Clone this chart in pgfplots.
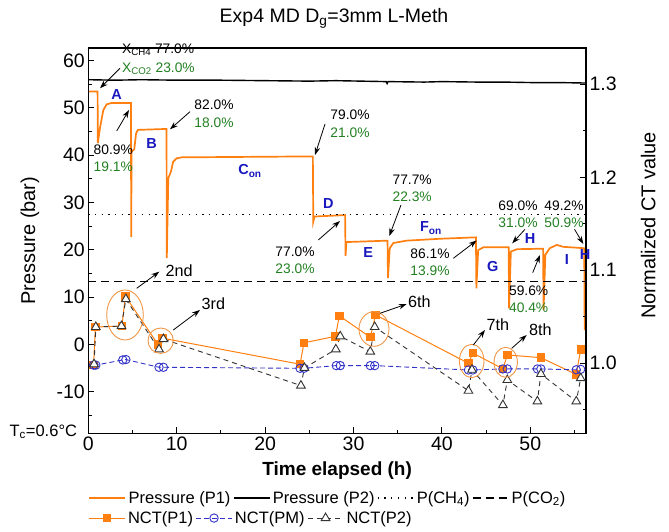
\documentclass[border=0pt]{standalone}
\usepackage{fontspec}
\setmainfont{Liberation Sans}
\usepackage{pgfplots}
\pgfplotsset{compat=1.18}
\usetikzlibrary{arrows.meta}

\definecolor{pOrange}{RGB}{255,128,16}
\definecolor{labBlue}{RGB}{24,24,190}
\definecolor{pctGreen}{RGB}{34,128,34}
\definecolor{pmBlue}{RGB}{50,50,200}
\definecolor{ellOrange}{RGB}{240,150,70}

\pgfplotsset{
  base/.style={
    scale only axis, width=497.7pt, height=385.3pt,
    at={(0pt,0pt)}, anchor=south west,
    xmin=0, xmax=56.3,
    tick align=inside,
    major tick length=6pt, minor tick length=3.5pt,
    tick style={black, line width=0.9pt},
    axis line style={line width=1.1pt},
    tick label style={font=\fontsize{19.5}{22}\selectfont},
    /pgf/number format/assume math mode=true,
    label style={font=\fontsize{20}{24}\selectfont},
    legend columns=-1,
    legend cell align=left,
    legend style={draw=none, fill=none, font=\fontsize{16.5}{19}\selectfont,
      anchor=west, inner xsep=0pt, inner ysep=0pt,
      nodes={inner xsep=2.5pt, inner ysep=1pt}},
    legend image code/.code={\draw[mark repeat=2,mark phase=2,##1] plot coordinates {(0pt,0pt) (18pt,0pt) (36pt,0pt)};},
  },
}

\begin{document}
\begin{tikzpicture}
\path[use as bounding box] (-88.3pt,-97.7pt) rectangle (580.7pt,433.3pt);

% pressure, left axis
\begin{axis}[base,
  ymin=-18.8, ymax=62.6,
  xtick={0,10,...,50}, minor xtick={5,15,...,55},
  ytick={-10,0,...,60}, minor ytick={-15,-5,...,55},
  xtick pos=left, ytick pos=left,
  xlabel={Time elapsed (h)},
  ylabel={Pressure (bar)},
  x label style={at={(axis description cs:0.5,-0.098)}, anchor=center, font=\fontsize{19}{22}\selectfont\bfseries},
  y label style={at={(axis description cs:-0.117,0.5)}, anchor=center},
  legend style={at={(axis description cs:0,-0.168)}},
]
\addplot[pOrange, line width=1.7pt] coordinates {
  (0,53.4) (1.05,53.4) (1.08,42.5) (1.32,45.7) (1.70,49.5) (2.08,50.7) (2.65,51.0)
  (4.83,51.0) (4.85,22.7) (4.9,40.7) (5.2,41.2) (5.4,44.5) (5.6,45.3) (8.85,45.5)
  (8.88,18.2) (9.05,35.1) (9.35,36.5) (9.6,38.6) (10.0,39.3) (10.6,39.5) (25.4,39.7)
  (25.45,25.9) (25.6,27.0) (29.05,27.3) (29.1,18.7) (29.2,21.6) (33.85,21.9)
  (33.9,14.0) (34.1,20.3) (34.5,21.4) (36.0,21.9) (39.8,22.3) (43.85,22.6)
  (43.9,11.8) (44.1,19.9) (44.7,20.5) (47.55,20.5) (47.6,7.6) (47.8,19.6) (48.5,20.1)
  (51.45,20.2) (51.5,7.25) (51.7,18.9) (52.2,20.3) (53.0,21.0) (53.7,20.6) (56.1,20.3)
  (56.15,3.0)
};
\addlegendentry{Pressure (P1)}
\addplot[black, line width=1.4pt] coordinates {
  (0,55.9) (3,55.8) (6,55.9) (10,55.8) (15,55.8) (20,55.7) (25,55.6) (28,55.7)
  (33.7,55.5) (33.8,55.1) (33.9,55.5) (38,55.4) (40,55.5) (44,55.4) (47,55.4)
  (50,55.3) (53,55.3) (56.3,55.2)
};
\addlegendentry{Pressure (P2)}
\addplot[black, line width=1.1pt, dash pattern=on 1.3pt off 5.4pt] coordinates {(0,27.5) (56.3,27.5)};
\addlegendentry{P(CH\textsubscript{4})}
\addplot[black, line width=1.1pt, dash pattern=on 8pt off 5pt] coordinates {(0,13.2) (56.3,13.2)};
\addlegendentry{P(CO\textsubscript{2})}
\end{axis}

% normalized CT, right axis
\begin{axis}[base,
  ymin=0.9247, ymax=1.339,
  axis x line=none,
  ytick={1.0,1.1,1.2,1.3}, minor ytick={0.95,1.05,1.15,1.25},
  ytick pos=right, yticklabel pos=right,
  yticklabel style={/pgf/number format/.cd, fixed, fixed zerofill, precision=1},
  ylabel={Normalized CT value},
  y label style={at={(axis description cs:1.125,0.54)}, anchor=center},
  legend style={at={(axis description cs:0,-0.22)}},
]
\addplot[pOrange, line width=1pt, mark=square*, mark size=3.7pt, mark options={solid, fill=pOrange}] coordinates {
  (0.6,0.998) (0.8,1.039) (3.8,1.040) (4.2,1.072) (7.9,1.020) (8.4,1.027)
  (23.95,0.999) (24.4,1.022) (27.95,1.029) (28.4,1.051) (31.9,1.028) (32.5,1.052)
  (43.0,1.000) (43.5,1.011) (46.9,0.994) (47.4,1.009) (51.2,1.006)
  (55.2,0.988) (55.7,1.015)
};
\addlegendentry{NCT(P1)}
\addplot[pmBlue, line width=0.9pt, dash pattern=on 5pt off 3pt, mark=o, mark size=4.2pt, mark options={solid}] coordinates {
  (0.6,0.998) (0.85,0.998) (3.9,1.0036) (4.25,1.004) (8.0,0.9957) (8.5,0.9957)
  (23.95,0.9946) (24.4,0.9946) (28.05,0.9975) (28.5,0.9975) (31.9,0.9975) (32.4,0.9975)
  (43.0,0.9928) (43.5,0.9928) (46.9,0.9939) (47.4,0.9939) (50.8,0.9939) (51.2,0.9939)
  (55.2,0.993) (55.7,0.9935)
};
\addlegendentry{NCT(PM)}
\addplot[black!80, line width=0.9pt, dash pattern=on 5pt off 4pt, mark=triangle*, mark size=5pt, mark options={solid, fill=white}] coordinates {
  (0.65,0.999) (0.85,1.039) (3.75,1.040) (4.25,1.069) (8.0,1.015) (8.5,1.026)
  (24.05,0.976) (24.45,0.995) (28.0,1.015) (28.5,1.029) (31.9,1.0125) (32.4,1.039)
  (43.0,0.9705) (43.4,0.993) (46.9,0.955) (47.4,0.982) (50.8,0.959) (51.2,0.9885)
  (55.2,0.959) (55.7,0.984)
};
\addlegendentry{NCT(P2)}
\end{axis}

% annotations, in picture pixels
\begin{scope}[x=1pt, y=-1pt, shift={(-88.3pt,433.3pt)},
  pct/.style={font=\fontsize{13.8}{16}\selectfont, inner sep=0pt},
  grn/.style={pct, text=pctGreen},
  lab/.style={font=\fontsize{14.5}{16}\selectfont\bfseries, text=labBlue, inner sep=0pt},
  ord/.style={font=\fontsize{16.2}{19}\selectfont, inner sep=0pt, anchor=west},
  arr/.style={-{Stealth[length=8pt, width=5.5pt]}, line width=0.8pt},
  ell/.style={draw=ellOrange, line width=0.9pt}]
\node[font=\fontsize{19.5}{22}\selectfont] at (334,18) {Exp4 MD D\textsubscript{g}=3mm L-Meth};
\node[font=\fontsize{16.5}{19}\selectfont, inner sep=0pt] at (43.3,431.7) {T\textsubscript{c}=0.6°C};

\node[pct, anchor=west] at (122,50) {X\textsubscript{CH4} 77.0\%};
\node[grn, anchor=west] at (122,69) {X\textsubscript{CO2} 23.0\%};
\draw[arr] (120,68.3) -- (100,88.3);

\node[lab] at (116.7,95) {A};
\node[pct] at (113.3,150) {80.9\%};
\node[grn] at (113.3,166.7) {19.1\%};
\draw[arr] (116.7,131) -- (129,110);

\node[lab] at (151.7,143.3) {B};
\node[pct] at (214,105) {82.0\%};
\node[grn] at (214,122.7) {18.0\%};
\draw[arr] (190,111.7) -- (170,129.3);

\node[lab] at (250,171) {C\textsubscript{on}};
\node[pct] at (350,115) {79.0\%};
\node[grn] at (350,132.3) {21.0\%};
\draw[arr] (325,124) -- (315,155);

\node[lab] at (328.3,203.5) {D};
\node[pct] at (295,251.7) {77.0\%};
\node[grn] at (295,269) {23.0\%};
\draw[arr] (318.3,240) -- (340,221);

\node[lab] at (368.3,253) {E};
\node[pct] at (412.2,180) {77.7\%};
\node[grn] at (412.2,196.7) {22.3\%};
\draw[arr] (401,205) -- (389.3,236);

\node[lab] at (431,228) {F\textsubscript{on}};
\node[pct] at (430,254) {86.1\%};
\node[grn] at (430,270.7) {13.9\%};
\draw[arr] (453.3,258.3) -- (476.7,240.5);

\node[lab] at (492.7,266.7) {G};
\node[pct] at (518,205.5) {69.0\%};
\node[grn] at (518,222.5) {31.0\%};
\draw[arr] (525,229.3) -- (512.2,243.3);

\node[lab] at (530,239) {H};
\node[pct] at (564,205.5) {49.2\%};
\node[grn] at (564,222.5) {50.9\%};
\draw[arr] (574.5,229.3) -- (583.3,244);

\node[lab] at (567,259.5) {I};
\node[lab] at (585,254.5) {H};
\node[pct] at (528.7,290.7) {59.6\%};
\node[grn] at (528.7,307.8) {40.4\%};
\draw[arr] (532.7,272.7) -- (540,255);

\draw[ell] (125,315) ellipse [x radius=18.3pt, y radius=25pt];
\draw[arr] (136.7,288.3) -- (159.3,271.7);
\node[ord] at (165.5,270.7) {2nd};
\draw[ell] (160.7,340.7) circle [radius=12.7pt];
\draw[arr] (173.3,330) -- (200,310);
\node[ord] at (201.5,303.3) {3rd};
\draw[ell] (374,329) ellipse [x radius=15pt, y radius=17.3pt];
\draw[arr] (380,313.3) -- (406.7,304);
\node[ord] at (408,301.7) {6th};
\draw[ell] (471.7,361) ellipse [x radius=12.3pt, y radius=16.7pt];
\draw[arr] (473.3,345) -- (485,330);
\node[ord] at (486.5,325) {7th};
\draw[ell] (505.7,362.3) ellipse [x radius=11.7pt, y radius=15pt];
\draw[arr] (511.7,348.3) -- (526.7,335);
\node[ord] at (529,330) {8th};
\end{scope}
\end{tikzpicture}
\end{document}
